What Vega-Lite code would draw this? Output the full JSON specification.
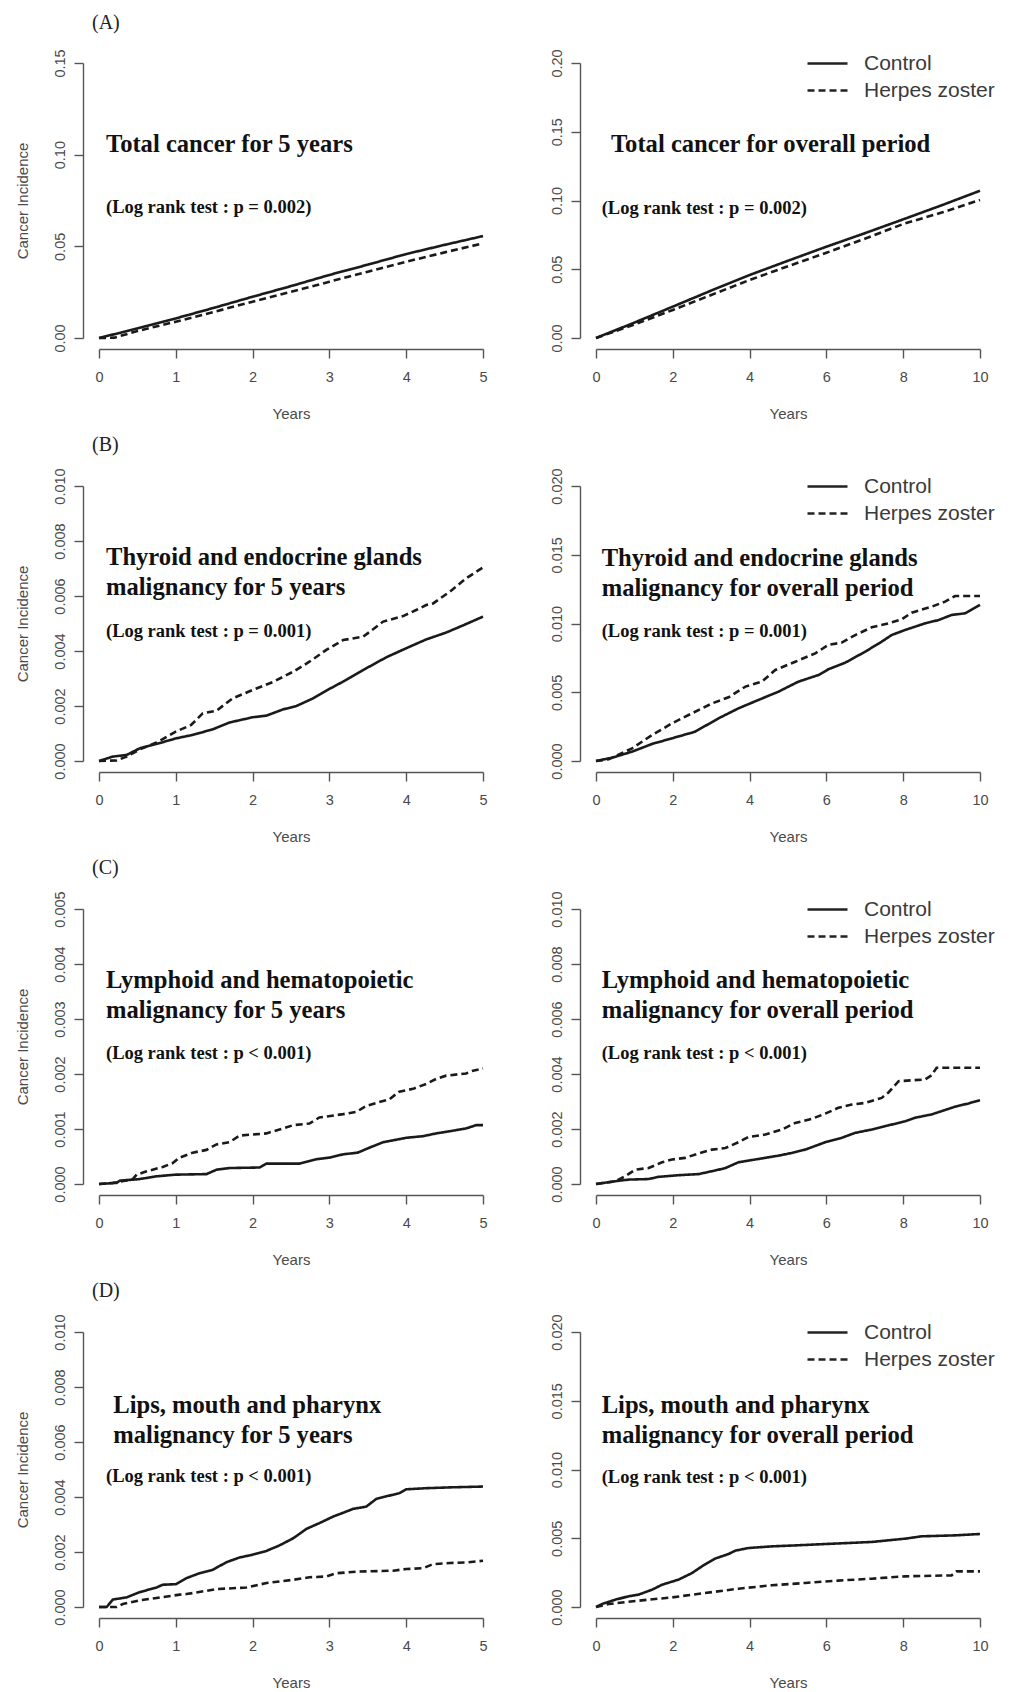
{
  "$schema": "https://vega.github.io/schema/vega-lite/v6.json",
  "background": "white",
  "padding": {"left": 15, "top": 12, "right": 5, "bottom": 5},
  "config": {
    "view": {"stroke": null},
    "axis": {"grid": false, "domainColor": "#555", "domainWidth": 1.4, "tickColor": "#555", "tickWidth": 1.4, "tickSize": 9, "labelFont": "Liberation Sans", "labelFontSize": 14.5, "labelColor": "#4a4a4a", "titleFont": "Liberation Sans", "titleFontSize": 15, "titleFontWeight": "normal", "titleColor": "#4a4a4a", "labelOverlap": false, "labelFlush": false},
    "axisX": {"offset": 11, "labelPadding": 12, "titlePadding": 23},
    "axisY": {"offset": 16, "labelAngle": 270, "labelAlign": "center", "labelBaseline": "bottom", "labelPadding": 7, "titlePadding": 22},
    "title": {"font": "Liberation Serif", "fontSize": 20, "fontWeight": "normal", "color": "#222", "anchor": "start", "frame": "group", "dx": -7, "baseline": "alphabetic", "offset": 16},
    "legend": {"orient": "none", "legendX": 210, "legendY": -13, "title": null, "labelFont": "Liberation Sans", "labelFontSize": 21, "labelColor": "#3a3a3a", "symbolType": "stroke", "symbolSize": 1600, "symbolStrokeWidth": 2.6, "symbolStrokeColor": "#222", "labelOffset": 15, "clipHeight": 27, "rowPadding": 0},
    "text": {"font": "Liberation Serif", "fontWeight": "bold", "align": "left", "baseline": "middle", "color": "#111", "lineHeight": 30},
    "line": {"color": "#1a1a1a", "strokeWidth": 2.6}
  },
  "datasets": {
    "curves": [
      {"panel":"A5","group":"Control","year":0,"incidence":0},
      {"panel":"A5","group":"Control","year":0.5,"incidence":0.0052},
      {"panel":"A5","group":"Control","year":1,"incidence":0.0107},
      {"panel":"A5","group":"Control","year":1.5,"incidence":0.0165},
      {"panel":"A5","group":"Control","year":2,"incidence":0.0225},
      {"panel":"A5","group":"Control","year":2.5,"incidence":0.0283},
      {"panel":"A5","group":"Control","year":3,"incidence":0.0344},
      {"panel":"A5","group":"Control","year":3.5,"incidence":0.0400},
      {"panel":"A5","group":"Control","year":4,"incidence":0.0458},
      {"panel":"A5","group":"Control","year":4.5,"incidence":0.0508},
      {"panel":"A5","group":"Control","year":5,"incidence":0.0556},
      {"panel":"A5","group":"Herpes zoster","year":0,"incidence":0},
      {"panel":"A5","group":"Herpes zoster","year":0.2,"incidence":0.0002},
      {"panel":"A5","group":"Herpes zoster","year":0.5,"incidence":0.0038},
      {"panel":"A5","group":"Herpes zoster","year":1,"incidence":0.0089},
      {"panel":"A5","group":"Herpes zoster","year":1.5,"incidence":0.0143},
      {"panel":"A5","group":"Herpes zoster","year":2,"incidence":0.0198},
      {"panel":"A5","group":"Herpes zoster","year":2.5,"incidence":0.0252},
      {"panel":"A5","group":"Herpes zoster","year":3,"incidence":0.0307},
      {"panel":"A5","group":"Herpes zoster","year":3.5,"incidence":0.0362},
      {"panel":"A5","group":"Herpes zoster","year":4,"incidence":0.0416},
      {"panel":"A5","group":"Herpes zoster","year":4.5,"incidence":0.0467},
      {"panel":"A5","group":"Herpes zoster","year":5,"incidence":0.0516},

      {"panel":"A10","group":"Control","year":0,"incidence":0},
      {"panel":"A10","group":"Control","year":1,"incidence":0.0112},
      {"panel":"A10","group":"Control","year":2,"incidence":0.0228},
      {"panel":"A10","group":"Control","year":3,"incidence":0.0345},
      {"panel":"A10","group":"Control","year":4,"incidence":0.0458},
      {"panel":"A10","group":"Control","year":5,"incidence":0.0562},
      {"panel":"A10","group":"Control","year":6,"incidence":0.0664},
      {"panel":"A10","group":"Control","year":7,"incidence":0.0762},
      {"panel":"A10","group":"Control","year":8,"incidence":0.0863},
      {"panel":"A10","group":"Control","year":9,"incidence":0.0965},
      {"panel":"A10","group":"Control","year":10,"incidence":0.1071},
      {"panel":"A10","group":"Herpes zoster","year":0,"incidence":0},
      {"panel":"A10","group":"Herpes zoster","year":1,"incidence":0.0098},
      {"panel":"A10","group":"Herpes zoster","year":2,"incidence":0.0204},
      {"panel":"A10","group":"Herpes zoster","year":3,"incidence":0.0313},
      {"panel":"A10","group":"Herpes zoster","year":4,"incidence":0.0422},
      {"panel":"A10","group":"Herpes zoster","year":5,"incidence":0.0522},
      {"panel":"A10","group":"Herpes zoster","year":6,"incidence":0.0620},
      {"panel":"A10","group":"Herpes zoster","year":7,"incidence":0.0722},
      {"panel":"A10","group":"Herpes zoster","year":8,"incidence":0.0829},
      {"panel":"A10","group":"Herpes zoster","year":9,"incidence":0.0912},
      {"panel":"A10","group":"Herpes zoster","year":10,"incidence":0.1004},

      {"panel":"B5","group":"Control","year":0,"incidence":0},
      {"panel":"B5","group":"Control","year":0.18,"incidence":0.00016},
      {"panel":"B5","group":"Control","year":0.36,"incidence":0.00022},
      {"panel":"B5","group":"Control","year":0.53,"incidence":0.00046},
      {"panel":"B5","group":"Control","year":0.75,"incidence":0.00062},
      {"panel":"B5","group":"Control","year":1.0,"incidence":0.00082},
      {"panel":"B5","group":"Control","year":1.22,"incidence":0.00095},
      {"panel":"B5","group":"Control","year":1.48,"incidence":0.00115},
      {"panel":"B5","group":"Control","year":1.70,"incidence":0.0014},
      {"panel":"B5","group":"Control","year":2.0,"incidence":0.00159},
      {"panel":"B5","group":"Control","year":2.18,"incidence":0.00165},
      {"panel":"B5","group":"Control","year":2.40,"incidence":0.00188},
      {"panel":"B5","group":"Control","year":2.57,"incidence":0.002},
      {"panel":"B5","group":"Control","year":2.79,"incidence":0.00228},
      {"panel":"B5","group":"Control","year":3.0,"incidence":0.00262},
      {"panel":"B5","group":"Control","year":3.22,"incidence":0.00295},
      {"panel":"B5","group":"Control","year":3.48,"incidence":0.00337},
      {"panel":"B5","group":"Control","year":3.74,"incidence":0.00377},
      {"panel":"B5","group":"Control","year":4.0,"incidence":0.0041},
      {"panel":"B5","group":"Control","year":4.26,"incidence":0.00442},
      {"panel":"B5","group":"Control","year":4.52,"incidence":0.00467},
      {"panel":"B5","group":"Control","year":4.78,"incidence":0.00498},
      {"panel":"B5","group":"Control","year":5.0,"incidence":0.00525},
      {"panel":"B5","group":"Herpes zoster","year":0,"incidence":0},
      {"panel":"B5","group":"Herpes zoster","year":0.23,"incidence":0.00002},
      {"panel":"B5","group":"Herpes zoster","year":0.36,"incidence":0.00016},
      {"panel":"B5","group":"Herpes zoster","year":0.53,"incidence":0.00042},
      {"panel":"B5","group":"Herpes zoster","year":0.75,"incidence":0.00067},
      {"panel":"B5","group":"Herpes zoster","year":1.0,"incidence":0.00107},
      {"panel":"B5","group":"Herpes zoster","year":1.2,"incidence":0.00131},
      {"panel":"B5","group":"Herpes zoster","year":1.35,"incidence":0.00173},
      {"panel":"B5","group":"Herpes zoster","year":1.53,"incidence":0.00183},
      {"panel":"B5","group":"Herpes zoster","year":1.74,"incidence":0.00228},
      {"panel":"B5","group":"Herpes zoster","year":2.0,"incidence":0.00258},
      {"panel":"B5","group":"Herpes zoster","year":2.27,"incidence":0.00288},
      {"panel":"B5","group":"Herpes zoster","year":2.53,"incidence":0.00325},
      {"panel":"B5","group":"Herpes zoster","year":2.74,"incidence":0.00361},
      {"panel":"B5","group":"Herpes zoster","year":2.96,"incidence":0.00404},
      {"panel":"B5","group":"Herpes zoster","year":3.18,"incidence":0.0044},
      {"panel":"B5","group":"Herpes zoster","year":3.44,"incidence":0.00452},
      {"panel":"B5","group":"Herpes zoster","year":3.70,"incidence":0.00507},
      {"panel":"B5","group":"Herpes zoster","year":3.96,"incidence":0.00527},
      {"panel":"B5","group":"Herpes zoster","year":4.13,"incidence":0.00549},
      {"panel":"B5","group":"Herpes zoster","year":4.26,"incidence":0.00567},
      {"panel":"B5","group":"Herpes zoster","year":4.35,"incidence":0.00573},
      {"panel":"B5","group":"Herpes zoster","year":4.57,"incidence":0.00616},
      {"panel":"B5","group":"Herpes zoster","year":4.78,"incidence":0.00664},
      {"panel":"B5","group":"Herpes zoster","year":5.0,"incidence":0.00704},

      {"panel":"B10","group":"Control","year":0,"incidence":0},
      {"panel":"B10","group":"Control","year":0.42,"incidence":0.00024},
      {"panel":"B10","group":"Control","year":0.94,"incidence":0.00068},
      {"panel":"B10","group":"Control","year":1.46,"incidence":0.00124},
      {"panel":"B10","group":"Control","year":1.98,"incidence":0.00165},
      {"panel":"B10","group":"Control","year":2.58,"incidence":0.00213},
      {"panel":"B10","group":"Control","year":3.19,"incidence":0.0031},
      {"panel":"B10","group":"Control","year":3.71,"incidence":0.00383},
      {"panel":"B10","group":"Control","year":4.23,"incidence":0.00444},
      {"panel":"B10","group":"Control","year":4.75,"incidence":0.00504},
      {"panel":"B10","group":"Control","year":5.27,"incidence":0.00577},
      {"panel":"B10","group":"Control","year":5.79,"incidence":0.00625},
      {"panel":"B10","group":"Control","year":6.05,"incidence":0.00667},
      {"panel":"B10","group":"Control","year":6.49,"incidence":0.00715},
      {"panel":"B10","group":"Control","year":7.01,"incidence":0.00795},
      {"panel":"B10","group":"Control","year":7.44,"incidence":0.00868},
      {"panel":"B10","group":"Control","year":7.70,"incidence":0.00916},
      {"panel":"B10","group":"Control","year":8.05,"incidence":0.00953},
      {"panel":"B10","group":"Control","year":8.57,"incidence":0.01001},
      {"panel":"B10","group":"Control","year":8.92,"incidence":0.01025},
      {"panel":"B10","group":"Control","year":9.26,"incidence":0.01062},
      {"panel":"B10","group":"Control","year":9.61,"incidence":0.01074},
      {"panel":"B10","group":"Control","year":10,"incidence":0.01135},
      {"panel":"B10","group":"Herpes zoster","year":0,"incidence":0},
      {"panel":"B10","group":"Herpes zoster","year":0.33,"incidence":0.00012},
      {"panel":"B10","group":"Herpes zoster","year":0.94,"incidence":0.00092},
      {"panel":"B10","group":"Herpes zoster","year":1.46,"incidence":0.00189},
      {"panel":"B10","group":"Herpes zoster","year":1.98,"incidence":0.00274},
      {"panel":"B10","group":"Herpes zoster","year":2.5,"incidence":0.00347},
      {"panel":"B10","group":"Herpes zoster","year":3.02,"incidence":0.00419},
      {"panel":"B10","group":"Herpes zoster","year":3.45,"incidence":0.00463},
      {"panel":"B10","group":"Herpes zoster","year":3.89,"incidence":0.00541},
      {"panel":"B10","group":"Herpes zoster","year":4.32,"incidence":0.00577},
      {"panel":"B10","group":"Herpes zoster","year":4.67,"incidence":0.00662},
      {"panel":"B10","group":"Herpes zoster","year":5.19,"incidence":0.00722},
      {"panel":"B10","group":"Herpes zoster","year":5.71,"incidence":0.00783},
      {"panel":"B10","group":"Herpes zoster","year":6.05,"incidence":0.00844},
      {"panel":"B10","group":"Herpes zoster","year":6.4,"incidence":0.00861},
      {"panel":"B10","group":"Herpes zoster","year":6.75,"incidence":0.00916},
      {"panel":"B10","group":"Herpes zoster","year":7.18,"incidence":0.00972},
      {"panel":"B10","group":"Herpes zoster","year":7.61,"incidence":0.01001},
      {"panel":"B10","group":"Herpes zoster","year":7.96,"incidence":0.0103},
      {"panel":"B10","group":"Herpes zoster","year":8.22,"incidence":0.01079},
      {"panel":"B10","group":"Herpes zoster","year":8.74,"incidence":0.01122},
      {"panel":"B10","group":"Herpes zoster","year":9.09,"incidence":0.01159},
      {"panel":"B10","group":"Herpes zoster","year":9.35,"incidence":0.012},
      {"panel":"B10","group":"Herpes zoster","year":10,"incidence":0.012},

      {"panel":"C5","group":"Control","year":0,"incidence":0},
      {"panel":"C5","group":"Control","year":0.23,"incidence":0.00002},
      {"panel":"C5","group":"Control","year":0.27,"incidence":0.00006},
      {"panel":"C5","group":"Control","year":0.53,"incidence":0.00009},
      {"panel":"C5","group":"Control","year":0.75,"incidence":0.00014},
      {"panel":"C5","group":"Control","year":1.0,"incidence":0.00017},
      {"panel":"C5","group":"Control","year":1.40,"incidence":0.00018},
      {"panel":"C5","group":"Control","year":1.53,"incidence":0.00026},
      {"panel":"C5","group":"Control","year":1.70,"incidence":0.00029},
      {"panel":"C5","group":"Control","year":2.09,"incidence":0.0003},
      {"panel":"C5","group":"Control","year":2.18,"incidence":0.00037},
      {"panel":"C5","group":"Control","year":2.61,"incidence":0.00037},
      {"panel":"C5","group":"Control","year":2.83,"incidence":0.00045},
      {"panel":"C5","group":"Control","year":3.0,"incidence":0.00048},
      {"panel":"C5","group":"Control","year":3.18,"incidence":0.00054},
      {"panel":"C5","group":"Control","year":3.37,"incidence":0.00057},
      {"panel":"C5","group":"Control","year":3.52,"incidence":0.00066},
      {"panel":"C5","group":"Control","year":3.70,"incidence":0.00076},
      {"panel":"C5","group":"Control","year":4.0,"incidence":0.00084},
      {"panel":"C5","group":"Control","year":4.22,"incidence":0.00087},
      {"panel":"C5","group":"Control","year":4.39,"incidence":0.00092},
      {"panel":"C5","group":"Control","year":4.57,"incidence":0.00096},
      {"panel":"C5","group":"Control","year":4.78,"incidence":0.00101},
      {"panel":"C5","group":"Control","year":4.91,"incidence":0.00107},
      {"panel":"C5","group":"Control","year":5.0,"incidence":0.00107},
      {"panel":"C5","group":"Herpes zoster","year":0,"incidence":0},
      {"panel":"C5","group":"Herpes zoster","year":0.18,"incidence":0.00002},
      {"panel":"C5","group":"Herpes zoster","year":0.27,"incidence":0.00004},
      {"panel":"C5","group":"Herpes zoster","year":0.44,"incidence":0.00009},
      {"panel":"C5","group":"Herpes zoster","year":0.49,"incidence":0.00017},
      {"panel":"C5","group":"Herpes zoster","year":0.62,"incidence":0.00023},
      {"panel":"C5","group":"Herpes zoster","year":0.83,"incidence":0.00031},
      {"panel":"C5","group":"Herpes zoster","year":0.96,"incidence":0.00038},
      {"panel":"C5","group":"Herpes zoster","year":1.05,"incidence":0.00048},
      {"panel":"C5","group":"Herpes zoster","year":1.22,"incidence":0.00057},
      {"panel":"C5","group":"Herpes zoster","year":1.40,"incidence":0.00062},
      {"panel":"C5","group":"Herpes zoster","year":1.53,"incidence":0.00072},
      {"panel":"C5","group":"Herpes zoster","year":1.70,"incidence":0.00076},
      {"panel":"C5","group":"Herpes zoster","year":1.83,"incidence":0.00088},
      {"panel":"C5","group":"Herpes zoster","year":2.18,"incidence":0.00092},
      {"panel":"C5","group":"Herpes zoster","year":2.35,"incidence":0.00099},
      {"panel":"C5","group":"Herpes zoster","year":2.53,"incidence":0.00107},
      {"panel":"C5","group":"Herpes zoster","year":2.74,"incidence":0.0011},
      {"panel":"C5","group":"Herpes zoster","year":2.87,"incidence":0.00121},
      {"panel":"C5","group":"Herpes zoster","year":3.18,"incidence":0.00127},
      {"panel":"C5","group":"Herpes zoster","year":3.35,"incidence":0.00131},
      {"panel":"C5","group":"Herpes zoster","year":3.48,"incidence":0.00142},
      {"panel":"C5","group":"Herpes zoster","year":3.65,"incidence":0.00149},
      {"panel":"C5","group":"Herpes zoster","year":3.78,"incidence":0.00154},
      {"panel":"C5","group":"Herpes zoster","year":3.91,"incidence":0.00168},
      {"panel":"C5","group":"Herpes zoster","year":4.09,"incidence":0.00173},
      {"panel":"C5","group":"Herpes zoster","year":4.26,"incidence":0.00182},
      {"panel":"C5","group":"Herpes zoster","year":4.39,"incidence":0.00191},
      {"panel":"C5","group":"Herpes zoster","year":4.52,"incidence":0.00197},
      {"panel":"C5","group":"Herpes zoster","year":4.78,"incidence":0.00201},
      {"panel":"C5","group":"Herpes zoster","year":4.87,"incidence":0.00206},
      {"panel":"C5","group":"Herpes zoster","year":5.0,"incidence":0.0021},

      {"panel":"C10","group":"Control","year":0,"incidence":0},
      {"panel":"C10","group":"Control","year":0.5,"incidence":0.0001},
      {"panel":"C10","group":"Control","year":0.85,"incidence":0.00016},
      {"panel":"C10","group":"Control","year":1.37,"incidence":0.00018},
      {"panel":"C10","group":"Control","year":1.63,"incidence":0.00026},
      {"panel":"C10","group":"Control","year":2.15,"incidence":0.00032},
      {"panel":"C10","group":"Control","year":2.67,"incidence":0.00036},
      {"panel":"C10","group":"Control","year":3.1,"incidence":0.00049},
      {"panel":"C10","group":"Control","year":3.37,"incidence":0.00058},
      {"panel":"C10","group":"Control","year":3.71,"incidence":0.00079},
      {"panel":"C10","group":"Control","year":4.23,"incidence":0.00091},
      {"panel":"C10","group":"Control","year":4.75,"incidence":0.00103},
      {"panel":"C10","group":"Control","year":5.1,"incidence":0.00113},
      {"panel":"C10","group":"Control","year":5.45,"incidence":0.00125},
      {"panel":"C10","group":"Control","year":5.97,"incidence":0.00152},
      {"panel":"C10","group":"Control","year":6.4,"incidence":0.00168},
      {"panel":"C10","group":"Control","year":6.75,"incidence":0.00186},
      {"panel":"C10","group":"Control","year":7.18,"incidence":0.00198},
      {"panel":"C10","group":"Control","year":7.61,"incidence":0.00213},
      {"panel":"C10","group":"Control","year":8.05,"incidence":0.00228},
      {"panel":"C10","group":"Control","year":8.31,"incidence":0.00241},
      {"panel":"C10","group":"Control","year":8.74,"incidence":0.00253},
      {"panel":"C10","group":"Control","year":9.0,"incidence":0.00265},
      {"panel":"C10","group":"Control","year":9.35,"incidence":0.00281},
      {"panel":"C10","group":"Control","year":9.70,"incidence":0.00293},
      {"panel":"C10","group":"Control","year":10,"incidence":0.00305},
      {"panel":"C10","group":"Herpes zoster","year":0,"incidence":0},
      {"panel":"C10","group":"Herpes zoster","year":0.5,"incidence":0.0001},
      {"panel":"C10","group":"Herpes zoster","year":0.76,"incidence":0.00028},
      {"panel":"C10","group":"Herpes zoster","year":1.02,"incidence":0.00052},
      {"panel":"C10","group":"Herpes zoster","year":1.37,"incidence":0.00058},
      {"panel":"C10","group":"Herpes zoster","year":1.72,"incidence":0.00079},
      {"panel":"C10","group":"Herpes zoster","year":1.98,"incidence":0.00089},
      {"panel":"C10","group":"Herpes zoster","year":2.32,"incidence":0.00095},
      {"panel":"C10","group":"Herpes zoster","year":2.67,"incidence":0.00111},
      {"panel":"C10","group":"Herpes zoster","year":3.02,"incidence":0.00125},
      {"panel":"C10","group":"Herpes zoster","year":3.37,"incidence":0.00131},
      {"panel":"C10","group":"Herpes zoster","year":3.71,"incidence":0.00152},
      {"panel":"C10","group":"Herpes zoster","year":3.97,"incidence":0.00171},
      {"panel":"C10","group":"Herpes zoster","year":4.41,"incidence":0.0018},
      {"panel":"C10","group":"Herpes zoster","year":4.84,"incidence":0.00198},
      {"panel":"C10","group":"Herpes zoster","year":5.19,"incidence":0.00222},
      {"panel":"C10","group":"Herpes zoster","year":5.62,"incidence":0.00237},
      {"panel":"C10","group":"Herpes zoster","year":5.97,"incidence":0.00256},
      {"panel":"C10","group":"Herpes zoster","year":6.31,"incidence":0.00277},
      {"panel":"C10","group":"Herpes zoster","year":6.66,"incidence":0.00289},
      {"panel":"C10","group":"Herpes zoster","year":7.01,"incidence":0.00295},
      {"panel":"C10","group":"Herpes zoster","year":7.44,"incidence":0.00313},
      {"panel":"C10","group":"Herpes zoster","year":7.61,"incidence":0.00332},
      {"panel":"C10","group":"Herpes zoster","year":7.88,"incidence":0.00374},
      {"panel":"C10","group":"Herpes zoster","year":8.57,"incidence":0.0038},
      {"panel":"C10","group":"Herpes zoster","year":8.74,"incidence":0.00395},
      {"panel":"C10","group":"Herpes zoster","year":8.87,"incidence":0.00423},
      {"panel":"C10","group":"Herpes zoster","year":10,"incidence":0.00423},

      {"panel":"D5","group":"Control","year":0,"incidence":0},
      {"panel":"D5","group":"Control","year":0.1,"incidence":0},
      {"panel":"D5","group":"Control","year":0.18,"incidence":0.00027},
      {"panel":"D5","group":"Control","year":0.36,"incidence":0.00035},
      {"panel":"D5","group":"Control","year":0.53,"incidence":0.00054},
      {"panel":"D5","group":"Control","year":0.75,"incidence":0.00071},
      {"panel":"D5","group":"Control","year":0.83,"incidence":0.00081},
      {"panel":"D5","group":"Control","year":1.0,"incidence":0.00083},
      {"panel":"D5","group":"Control","year":1.14,"incidence":0.00105},
      {"panel":"D5","group":"Control","year":1.31,"incidence":0.00123},
      {"panel":"D5","group":"Control","year":1.48,"incidence":0.00135},
      {"panel":"D5","group":"Control","year":1.66,"incidence":0.00163},
      {"panel":"D5","group":"Control","year":1.83,"incidence":0.0018},
      {"panel":"D5","group":"Control","year":2.0,"incidence":0.0019},
      {"panel":"D5","group":"Control","year":2.18,"incidence":0.00204},
      {"panel":"D5","group":"Control","year":2.35,"incidence":0.00224},
      {"panel":"D5","group":"Control","year":2.53,"incidence":0.0025},
      {"panel":"D5","group":"Control","year":2.70,"incidence":0.00284},
      {"panel":"D5","group":"Control","year":2.87,"incidence":0.00305},
      {"panel":"D5","group":"Control","year":3.05,"incidence":0.00329},
      {"panel":"D5","group":"Control","year":3.22,"incidence":0.00347},
      {"panel":"D5","group":"Control","year":3.31,"incidence":0.00357},
      {"panel":"D5","group":"Control","year":3.48,"incidence":0.00365},
      {"panel":"D5","group":"Control","year":3.61,"incidence":0.00393},
      {"panel":"D5","group":"Control","year":3.78,"incidence":0.00405},
      {"panel":"D5","group":"Control","year":3.91,"incidence":0.00414},
      {"panel":"D5","group":"Control","year":4.0,"incidence":0.00428},
      {"panel":"D5","group":"Control","year":4.26,"incidence":0.00432},
      {"panel":"D5","group":"Control","year":4.57,"incidence":0.00435},
      {"panel":"D5","group":"Control","year":5.0,"incidence":0.00438},
      {"panel":"D5","group":"Herpes zoster","year":0,"incidence":0},
      {"panel":"D5","group":"Herpes zoster","year":0.23,"incidence":0},
      {"panel":"D5","group":"Herpes zoster","year":0.31,"incidence":0.00011},
      {"panel":"D5","group":"Herpes zoster","year":0.53,"incidence":0.00024},
      {"panel":"D5","group":"Herpes zoster","year":0.75,"incidence":0.00033},
      {"panel":"D5","group":"Herpes zoster","year":1.05,"incidence":0.00045},
      {"panel":"D5","group":"Herpes zoster","year":1.14,"incidence":0.00047},
      {"panel":"D5","group":"Herpes zoster","year":1.40,"incidence":0.00059},
      {"panel":"D5","group":"Herpes zoster","year":1.53,"incidence":0.00065},
      {"panel":"D5","group":"Herpes zoster","year":1.92,"incidence":0.00071},
      {"panel":"D5","group":"Herpes zoster","year":2.18,"incidence":0.00087},
      {"panel":"D5","group":"Herpes zoster","year":2.53,"incidence":0.00099},
      {"panel":"D5","group":"Herpes zoster","year":2.74,"incidence":0.00108},
      {"panel":"D5","group":"Herpes zoster","year":2.96,"incidence":0.00111},
      {"panel":"D5","group":"Herpes zoster","year":3.09,"incidence":0.00123},
      {"panel":"D5","group":"Herpes zoster","year":3.39,"incidence":0.00129},
      {"panel":"D5","group":"Herpes zoster","year":3.83,"incidence":0.00132},
      {"panel":"D5","group":"Herpes zoster","year":4.0,"incidence":0.00138},
      {"panel":"D5","group":"Herpes zoster","year":4.22,"incidence":0.00141},
      {"panel":"D5","group":"Herpes zoster","year":4.35,"incidence":0.00156},
      {"panel":"D5","group":"Herpes zoster","year":4.57,"incidence":0.0016},
      {"panel":"D5","group":"Herpes zoster","year":4.78,"incidence":0.00162},
      {"panel":"D5","group":"Herpes zoster","year":5.0,"incidence":0.00168},

      {"panel":"D10","group":"Control","year":0,"incidence":0},
      {"panel":"D10","group":"Control","year":0.16,"incidence":0.00022},
      {"panel":"D10","group":"Control","year":0.5,"incidence":0.00053},
      {"panel":"D10","group":"Control","year":0.85,"incidence":0.00078},
      {"panel":"D10","group":"Control","year":1.11,"incidence":0.0009},
      {"panel":"D10","group":"Control","year":1.46,"incidence":0.00126},
      {"panel":"D10","group":"Control","year":1.72,"incidence":0.00162},
      {"panel":"D10","group":"Control","year":2.15,"incidence":0.00199},
      {"panel":"D10","group":"Control","year":2.5,"incidence":0.00247},
      {"panel":"D10","group":"Control","year":2.76,"incidence":0.00296},
      {"panel":"D10","group":"Control","year":3.1,"incidence":0.00352},
      {"panel":"D10","group":"Control","year":3.45,"incidence":0.00385},
      {"panel":"D10","group":"Control","year":3.63,"incidence":0.0041},
      {"panel":"D10","group":"Control","year":3.97,"incidence":0.00429},
      {"panel":"D10","group":"Control","year":4.58,"incidence":0.00441},
      {"panel":"D10","group":"Control","year":5.19,"incidence":0.00448},
      {"panel":"D10","group":"Control","year":5.97,"incidence":0.00458},
      {"panel":"D10","group":"Control","year":7.18,"incidence":0.00473},
      {"panel":"D10","group":"Control","year":8.05,"incidence":0.00497},
      {"panel":"D10","group":"Control","year":8.48,"incidence":0.00514},
      {"panel":"D10","group":"Control","year":9.35,"incidence":0.00521},
      {"panel":"D10","group":"Control","year":10,"incidence":0.00531},
      {"panel":"D10","group":"Herpes zoster","year":0,"incidence":0},
      {"panel":"D10","group":"Herpes zoster","year":0.33,"incidence":0.00022},
      {"panel":"D10","group":"Herpes zoster","year":1.11,"incidence":0.00046},
      {"panel":"D10","group":"Herpes zoster","year":1.98,"incidence":0.0007},
      {"panel":"D10","group":"Herpes zoster","year":2.84,"incidence":0.00102},
      {"panel":"D10","group":"Herpes zoster","year":3.71,"incidence":0.00133},
      {"panel":"D10","group":"Herpes zoster","year":4.58,"incidence":0.00158},
      {"panel":"D10","group":"Herpes zoster","year":5.45,"incidence":0.00175},
      {"panel":"D10","group":"Herpes zoster","year":6.31,"incidence":0.00192},
      {"panel":"D10","group":"Herpes zoster","year":7.18,"incidence":0.00206},
      {"panel":"D10","group":"Herpes zoster","year":8.05,"incidence":0.00223},
      {"panel":"D10","group":"Herpes zoster","year":9.26,"incidence":0.0023},
      {"panel":"D10","group":"Herpes zoster","year":9.39,"incidence":0.00259},
      {"panel":"D10","group":"Herpes zoster","year":10,"incidence":0.00259}
    ]
  },
  "columns": 2,
  "spacing": {"row": 148, "column": 113},
  "bounds": "flush",
  "resolve": {"scale": {"x": "independent", "y": "independent", "strokeDash": "independent"}, "legend": {"strokeDash": "independent"}},
  "concat": [
    {
      "width": 384, "height": 275,
      "title": {"text": "(A)"},
      "layer": [
        {"data": {"name": "curves"}, "transform": [{"filter": "datum.panel === 'A5'"}],
         "mark": {"type": "line"},
         "encoding": {
           "x": {"field": "year", "type": "quantitative", "scale": {"domain": [0, 5], "nice": false}, "axis": {"title": "Years", "values": [0, 1, 2, 3, 4, 5], "format": "d"}},
           "y": {"field": "incidence", "type": "quantitative", "scale": {"domain": [0, 0.15], "nice": false}, "axis": {"title": "Cancer Incidence", "values": [0, 0.05, 0.1, 0.15], "format": ".2f"}},
           "strokeDash": {"field": "group", "type": "nominal", "scale": {"domain": ["Control", "Herpes zoster"], "range": [[1, 0], [7, 4]]}, "legend": null}
         }},
        {"data": {"values": [{}]}, "mark": {"type": "text", "fontSize": 24.6},
         "encoding": {"x": {"datum": 0.091}, "y": {"datum": 0.1051}, "text": {"value": "Total cancer for 5 years"}}},
        {"data": {"values": [{}]}, "mark": {"type": "text", "fontSize": 18.5},
         "encoding": {"x": {"datum": 0.091}, "y": {"datum": 0.0712}, "text": {"value": "(Log rank test : p = 0.002)"}}}
      ]
    },
    {
      "width": 384, "height": 275,
      "layer": [
        {"data": {"name": "curves"}, "transform": [{"filter": "datum.panel === 'A10'"}],
         "mark": {"type": "line"},
         "encoding": {
           "x": {"field": "year", "type": "quantitative", "scale": {"domain": [0, 10], "nice": false}, "axis": {"title": "Years", "values": [0, 2, 4, 6, 8, 10], "format": "d"}},
           "y": {"field": "incidence", "type": "quantitative", "scale": {"domain": [0, 0.2], "nice": false}, "axis": {"title": null, "values": [0, 0.05, 0.1, 0.15, 0.2], "format": ".2f"}},
           "strokeDash": {"field": "group", "type": "nominal", "scale": {"domain": ["Control", "Herpes zoster"], "range": [[1, 0], [7, 4]]}}
         }},
        {"data": {"values": [{}]}, "mark": {"type": "text", "fontSize": 24.6},
         "encoding": {"x": {"datum": 0.39}, "y": {"datum": 0.1405}, "text": {"value": "Total cancer for overall period"}}},
        {"data": {"values": [{}]}, "mark": {"type": "text", "fontSize": 18.5},
         "encoding": {"x": {"datum": 0.148}, "y": {"datum": 0.0949}, "text": {"value": "(Log rank test : p = 0.002)"}}}
      ]
    },
    {
      "width": 384, "height": 275,
      "title": {"text": "(B)", "offset": 13},
      "layer": [
        {"data": {"name": "curves"}, "transform": [{"filter": "datum.panel === 'B5'"}],
         "mark": {"type": "line"},
         "encoding": {
           "x": {"field": "year", "type": "quantitative", "scale": {"domain": [0, 5], "nice": false}, "axis": {"title": "Years", "values": [0, 1, 2, 3, 4, 5], "format": "d"}},
           "y": {"field": "incidence", "type": "quantitative", "scale": {"domain": [0, 0.01], "nice": false}, "axis": {"title": "Cancer Incidence", "values": [0, 0.002, 0.004, 0.006, 0.008, 0.01], "format": ".3f"}},
           "strokeDash": {"field": "group", "type": "nominal", "scale": {"domain": ["Control", "Herpes zoster"], "range": [[1, 0], [7, 4]]}, "legend": null}
         }},
        {"data": {"values": [{}]}, "mark": {"type": "text", "fontSize": 24.6},
         "encoding": {"x": {"datum": 0.091}, "y": {"datum": 0.007364}, "text": {"value": ["Thyroid and endocrine glands", "malignancy for 5 years"]}}},
        {"data": {"values": [{}]}, "mark": {"type": "text", "fontSize": 18.5},
         "encoding": {"x": {"datum": 0.091}, "y": {"datum": 0.004745}, "text": {"value": "(Log rank test : p = 0.001)"}}}
      ]
    },
    {
      "width": 384, "height": 275,
      "layer": [
        {"data": {"name": "curves"}, "transform": [{"filter": "datum.panel === 'B10'"}],
         "mark": {"type": "line"},
         "encoding": {
           "x": {"field": "year", "type": "quantitative", "scale": {"domain": [0, 10], "nice": false}, "axis": {"title": "Years", "values": [0, 2, 4, 6, 8, 10], "format": "d"}},
           "y": {"field": "incidence", "type": "quantitative", "scale": {"domain": [0, 0.02], "nice": false}, "axis": {"title": null, "values": [0, 0.005, 0.01, 0.015, 0.02], "format": ".3f"}},
           "strokeDash": {"field": "group", "type": "nominal", "scale": {"domain": ["Control", "Herpes zoster"], "range": [[1, 0], [7, 4]]}}
         }},
        {"data": {"values": [{}]}, "mark": {"type": "text", "fontSize": 24.6},
         "encoding": {"x": {"datum": 0.148}, "y": {"datum": 0.014727}, "text": {"value": ["Thyroid and endocrine glands", "malignancy for overall period"]}}},
        {"data": {"values": [{}]}, "mark": {"type": "text", "fontSize": 18.5},
         "encoding": {"x": {"datum": 0.148}, "y": {"datum": 0.00949}, "text": {"value": "(Log rank test : p = 0.001)"}}}
      ]
    },
    {
      "width": 384, "height": 275,
      "title": {"text": "(C)", "offset": 13},
      "layer": [
        {"data": {"name": "curves"}, "transform": [{"filter": "datum.panel === 'C5'"}],
         "mark": {"type": "line"},
         "encoding": {
           "x": {"field": "year", "type": "quantitative", "scale": {"domain": [0, 5], "nice": false}, "axis": {"title": "Years", "values": [0, 1, 2, 3, 4, 5], "format": "d"}},
           "y": {"field": "incidence", "type": "quantitative", "scale": {"domain": [0, 0.005], "nice": false}, "axis": {"title": "Cancer Incidence", "values": [0, 0.001, 0.002, 0.003, 0.004, 0.005], "format": ".3f"}},
           "strokeDash": {"field": "group", "type": "nominal", "scale": {"domain": ["Control", "Herpes zoster"], "range": [[1, 0], [7, 4]]}, "legend": null}
         }},
        {"data": {"values": [{}]}, "mark": {"type": "text", "fontSize": 24.6},
         "encoding": {"x": {"datum": 0.091}, "y": {"datum": 0.003682}, "text": {"value": ["Lymphoid and hematopoietic", "malignancy for 5 years"]}}},
        {"data": {"values": [{}]}, "mark": {"type": "text", "fontSize": 18.5},
         "encoding": {"x": {"datum": 0.091}, "y": {"datum": 0.002381}, "text": {"value": "(Log rank test : p < 0.001)"}}}
      ]
    },
    {
      "width": 384, "height": 275,
      "layer": [
        {"data": {"name": "curves"}, "transform": [{"filter": "datum.panel === 'C10'"}],
         "mark": {"type": "line"},
         "encoding": {
           "x": {"field": "year", "type": "quantitative", "scale": {"domain": [0, 10], "nice": false}, "axis": {"title": "Years", "values": [0, 2, 4, 6, 8, 10], "format": "d"}},
           "y": {"field": "incidence", "type": "quantitative", "scale": {"domain": [0, 0.01], "nice": false}, "axis": {"title": null, "values": [0, 0.002, 0.004, 0.006, 0.008, 0.01], "format": ".3f"}},
           "strokeDash": {"field": "group", "type": "nominal", "scale": {"domain": ["Control", "Herpes zoster"], "range": [[1, 0], [7, 4]]}}
         }},
        {"data": {"values": [{}]}, "mark": {"type": "text", "fontSize": 24.6},
         "encoding": {"x": {"datum": 0.148}, "y": {"datum": 0.007365}, "text": {"value": ["Lymphoid and hematopoietic", "malignancy for overall period"]}}},
        {"data": {"values": [{}]}, "mark": {"type": "text", "fontSize": 18.5},
         "encoding": {"x": {"datum": 0.148}, "y": {"datum": 0.004763}, "text": {"value": "(Log rank test : p < 0.001)"}}}
      ]
    },
    {
      "width": 384, "height": 275,
      "title": {"text": "(D)", "offset": 13},
      "layer": [
        {"data": {"name": "curves"}, "transform": [{"filter": "datum.panel === 'D5'"}],
         "mark": {"type": "line"},
         "encoding": {
           "x": {"field": "year", "type": "quantitative", "scale": {"domain": [0, 5], "nice": false}, "axis": {"title": "Years", "values": [0, 1, 2, 3, 4, 5], "format": "d"}},
           "y": {"field": "incidence", "type": "quantitative", "scale": {"domain": [0, 0.01], "nice": false}, "axis": {"title": "Cancer Incidence", "values": [0, 0.002, 0.004, 0.006, 0.008, 0.01], "format": ".3f"}},
           "strokeDash": {"field": "group", "type": "nominal", "scale": {"domain": ["Control", "Herpes zoster"], "range": [[1, 0], [7, 4]]}, "legend": null}
         }},
        {"data": {"values": [{}]}, "mark": {"type": "text", "fontSize": 24.6},
         "encoding": {"x": {"datum": 0.186}, "y": {"datum": 0.007319}, "text": {"value": ["Lips, mouth and pharynx", "malignancy for 5 years"]}}},
        {"data": {"values": [{}]}, "mark": {"type": "text", "fontSize": 18.5},
         "encoding": {"x": {"datum": 0.091}, "y": {"datum": 0.004746}, "text": {"value": "(Log rank test : p < 0.001)"}}}
      ]
    },
    {
      "width": 384, "height": 275,
      "layer": [
        {"data": {"name": "curves"}, "transform": [{"filter": "datum.panel === 'D10'"}],
         "mark": {"type": "line"},
         "encoding": {
           "x": {"field": "year", "type": "quantitative", "scale": {"domain": [0, 10], "nice": false}, "axis": {"title": "Years", "values": [0, 2, 4, 6, 8, 10], "format": "d"}},
           "y": {"field": "incidence", "type": "quantitative", "scale": {"domain": [0, 0.02], "nice": false}, "axis": {"title": null, "values": [0, 0.005, 0.01, 0.015, 0.02], "format": ".3f"}},
           "strokeDash": {"field": "group", "type": "nominal", "scale": {"domain": ["Control", "Herpes zoster"], "range": [[1, 0], [7, 4]]}}
         }},
        {"data": {"values": [{}]}, "mark": {"type": "text", "fontSize": 24.6},
         "encoding": {"x": {"datum": 0.148}, "y": {"datum": 0.014638}, "text": {"value": ["Lips, mouth and pharynx", "malignancy for overall period"]}}},
        {"data": {"values": [{}]}, "mark": {"type": "text", "fontSize": 18.5},
         "encoding": {"x": {"datum": 0.148}, "y": {"datum": 0.00949}, "text": {"value": "(Log rank test : p < 0.001)"}}}
      ]
    }
  ]
}
